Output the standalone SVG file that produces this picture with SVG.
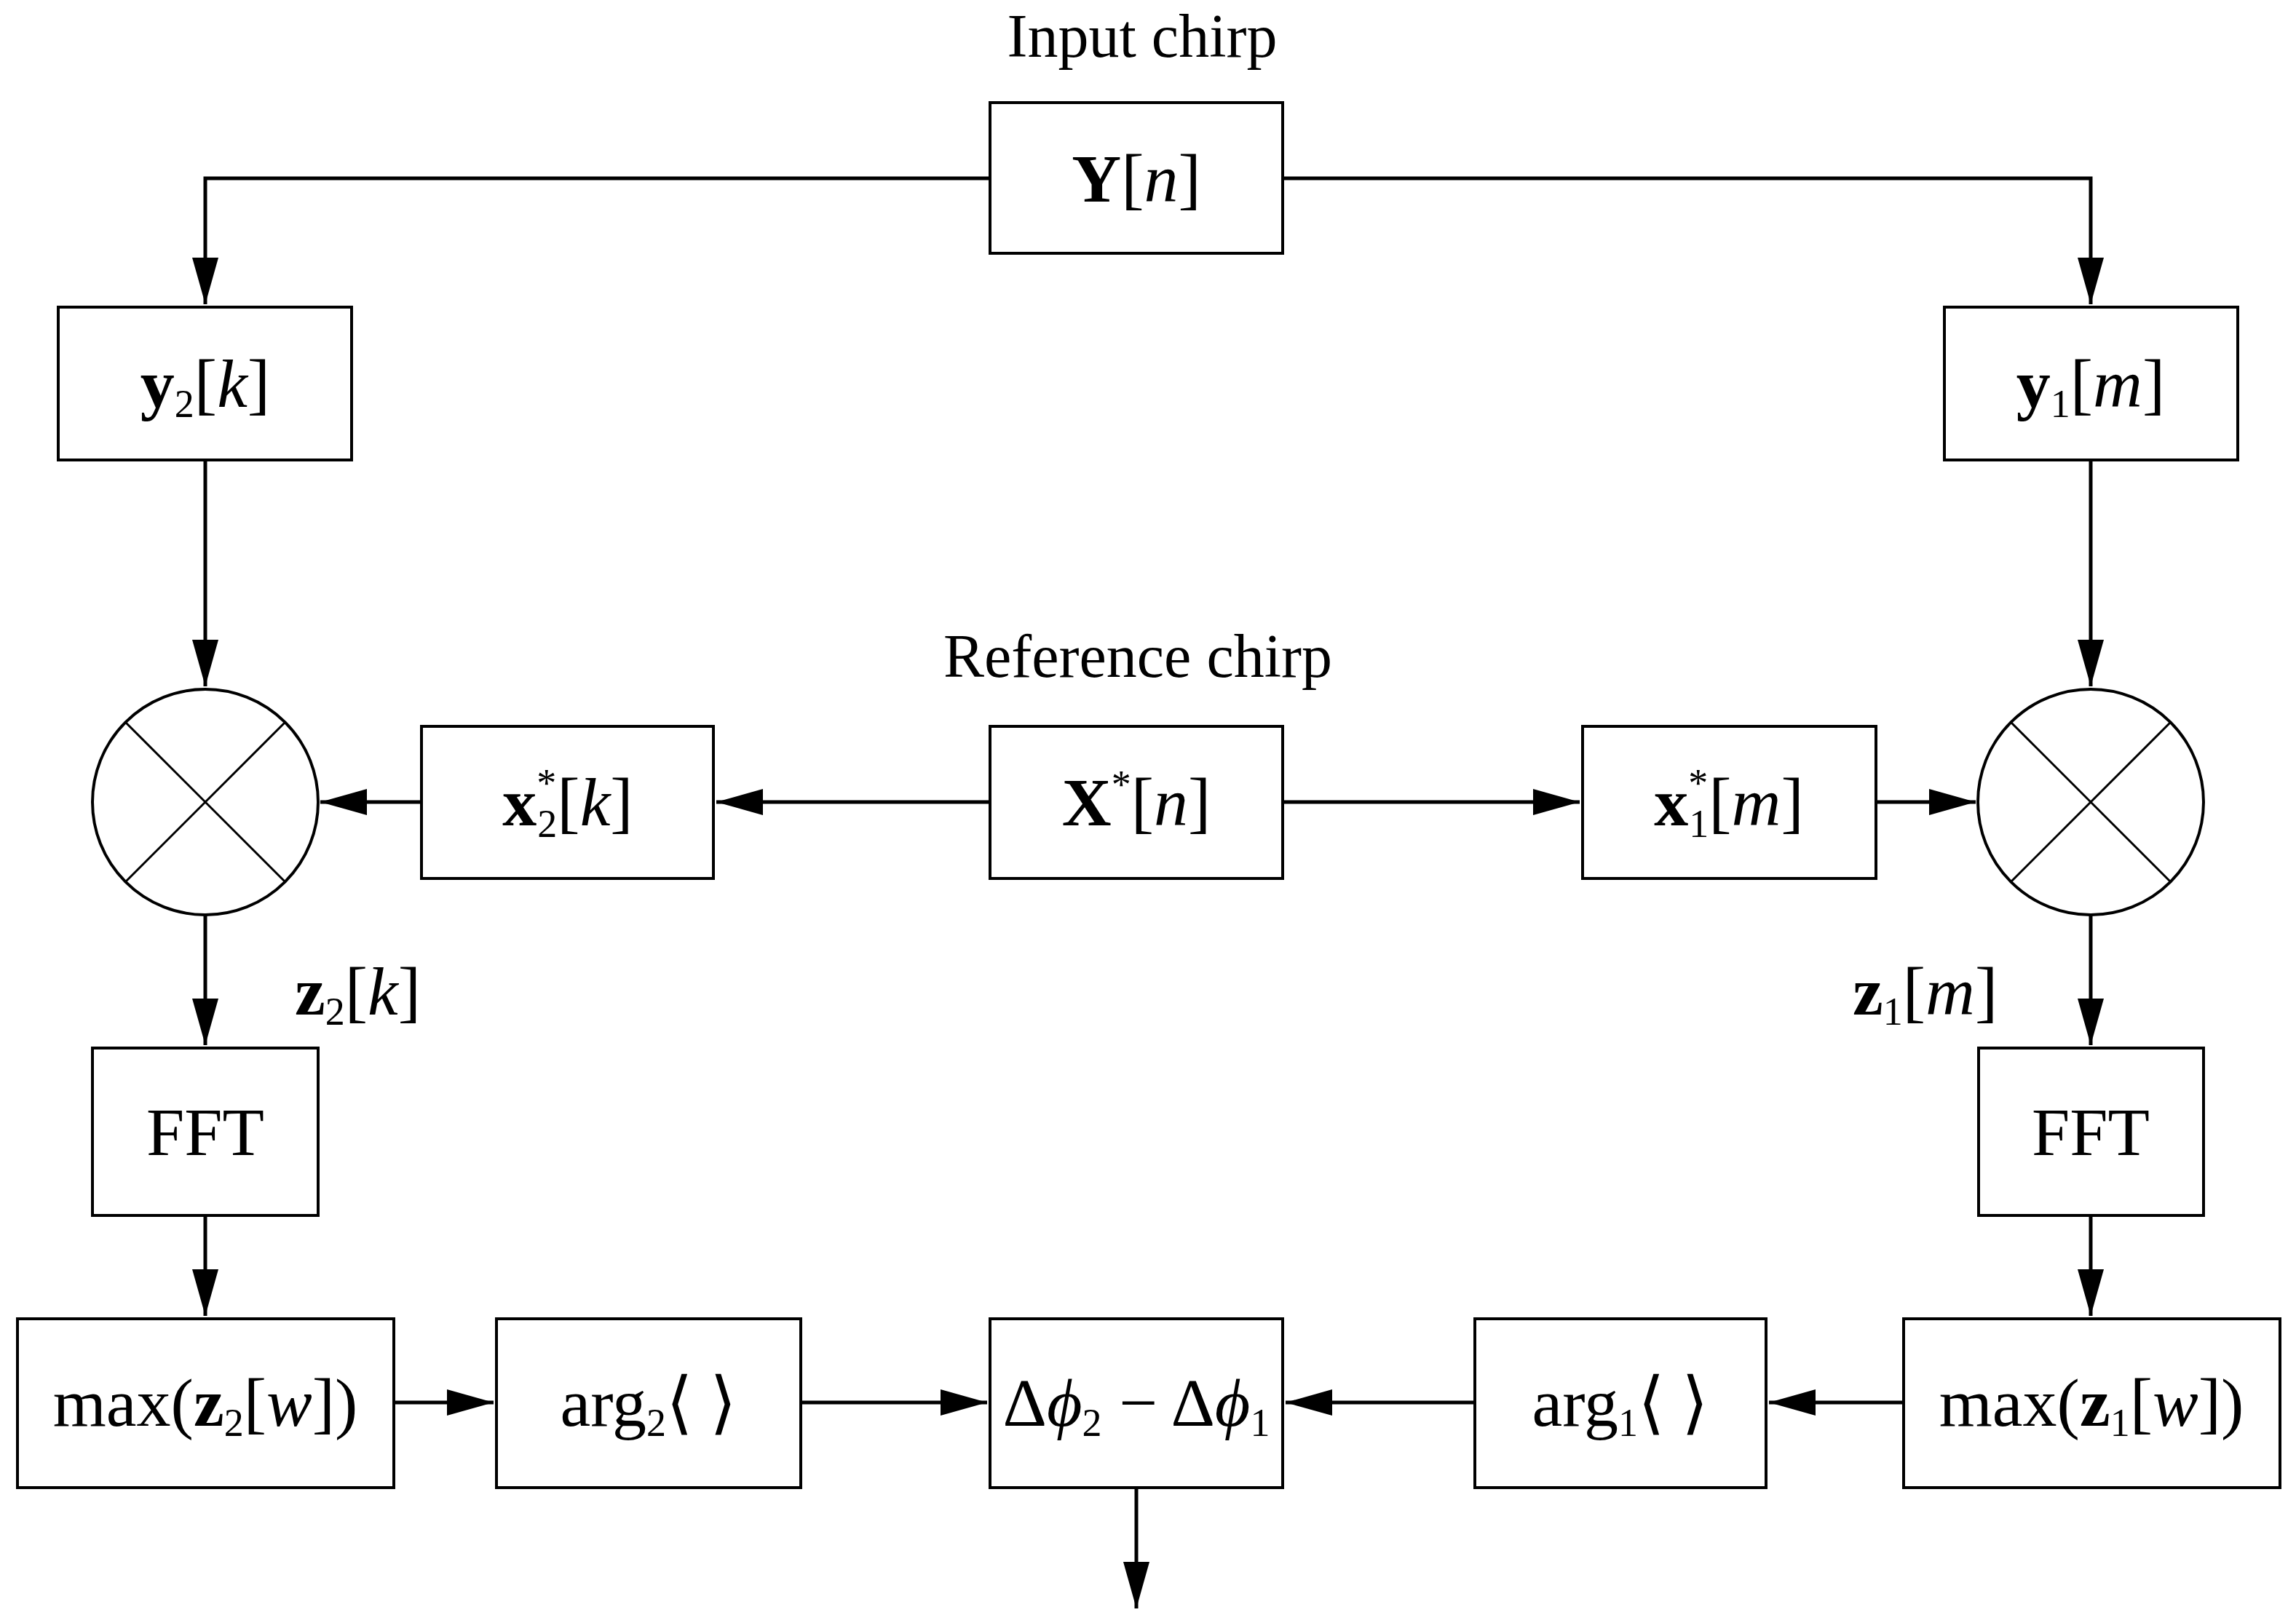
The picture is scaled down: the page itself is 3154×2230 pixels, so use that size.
<svg xmlns="http://www.w3.org/2000/svg" width="3154" height="2230" viewBox="0 0 3154 2230">
<style>
.b{fill:#fff;stroke:#000;stroke-width:4}
.l{fill:none;stroke:#000;stroke-width:5}
text{font-family:"Liberation Serif",serif;font-size:94px;fill:#000}
.t{font-size:84px}
.c{text-anchor:middle}
.bo{font-weight:bold}
.i{font-style:italic}
.s{font-size:54px}
</style>
<defs>
<marker id="a" markerUnits="userSpaceOnUse" markerWidth="70" markerHeight="40" refX="64" refY="18" orient="auto">
<path d="M0,0 L64,18 L0,36 Z" fill="#000"/>
</marker>
</defs>
<text class="c t" x="1569" y="78">Input chirp</text>
<text class="c t" x="1563" y="930">Reference chirp</text>
<g id="connectors">
<path class="l" d="M1360,245 H282 V418" marker-end="url(#a)"/>
<path class="l" d="M1762,245 H2872 V418" marker-end="url(#a)"/>
<path class="l" d="M282,632 V943" marker-end="url(#a)"/>
<path class="l" d="M2872,632 V943" marker-end="url(#a)"/>
<path class="l" d="M1360,1102 H984" marker-end="url(#a)"/>
<path class="l" d="M579,1102 H440" marker-end="url(#a)"/>
<path class="l" d="M1762,1102 H2170" marker-end="url(#a)"/>
<path class="l" d="M2577,1102 H2714" marker-end="url(#a)"/>
<path class="l" d="M282,1257 V1436" marker-end="url(#a)"/>
<path class="l" d="M2872,1257 V1436" marker-end="url(#a)"/>
<path class="l" d="M282,1670 V1808" marker-end="url(#a)"/>
<path class="l" d="M2872,1670 V1808" marker-end="url(#a)"/>
<path class="l" d="M541,1927 H678" marker-end="url(#a)"/>
<path class="l" d="M1100,1927 H1356" marker-end="url(#a)"/>
<path class="l" d="M2615,1927 H2430" marker-end="url(#a)"/>
<path class="l" d="M2026,1927 H1766" marker-end="url(#a)"/>
<path class="l" d="M1561,2044 V2210" marker-end="url(#a)"/>
</g>
<g id="Y"><rect class="b" x="1360" y="141" width="402" height="207"/>
<text class="c" x="1561" y="277"><tspan class="bo">Y</tspan>[<tspan class="i">n</tspan>]</text></g>
<g id="y2"><rect class="b" x="80" y="422" width="403" height="210"/>
<text class="c" x="282" y="559"><tspan class="bo">y</tspan><tspan class="s" dy="14">2</tspan><tspan dy="-14">[</tspan><tspan class="i">k</tspan>]</text></g>
<g id="y1"><rect class="b" x="2671" y="422" width="403" height="210"/>
<text class="c" x="2872" y="559"><tspan class="bo">y</tspan><tspan class="s" dy="14">1</tspan><tspan dy="-14">[</tspan><tspan class="i">m</tspan>]</text></g>
<g id="mixL"><circle class="b" cx="282" cy="1102" r="155"/>
<path class="l" style="stroke-width:3" d="M172,992 L392,1212 M392,992 L172,1212"/></g>
<g id="mixR"><circle class="b" cx="2872" cy="1102" r="155"/>
<path class="l" style="stroke-width:3" d="M2762,992 L2982,1212 M2982,992 L2762,1212"/></g>
<g id="X"><rect class="b" x="1360" y="998" width="402" height="209"/>
<text class="c" x="1561" y="1134"><tspan class="bo">X</tspan><tspan class="s" dy="-38">*</tspan><tspan dy="38">[</tspan><tspan class="i">n</tspan>]</text></g>
<g id="x2"><rect class="b" x="579" y="998" width="401" height="209"/>
<text class="c" x="780" y="1134"><tspan class="bo">x</tspan><tspan class="s" dy="-40">*</tspan><tspan class="s" dx="-26" dy="56">2</tspan><tspan dy="-16">[</tspan><tspan class="i">k</tspan>]</text></g>
<g id="x1"><rect class="b" x="2174" y="998" width="403" height="209"/>
<text class="c" x="2375" y="1134"><tspan class="bo">x</tspan><tspan class="s" dy="-40">*</tspan><tspan class="s" dx="-26" dy="56">1</tspan><tspan dy="-16">[</tspan><tspan class="i">m</tspan>]</text></g>
<text x="405" y="1394"><tspan class="bo">z</tspan><tspan class="s" dy="14">2</tspan><tspan dy="-14">[</tspan><tspan class="i">k</tspan>]</text>
<text x="2545" y="1394"><tspan class="bo">z</tspan><tspan class="s" dy="14">1</tspan><tspan dy="-14">[</tspan><tspan class="i">m</tspan>]</text>
<g id="fft2"><rect class="b" x="127" y="1440" width="310" height="230"/>
<text class="c" x="282" y="1587">FFT</text></g>
<g id="fft1"><rect class="b" x="2718" y="1440" width="309" height="230"/>
<text class="c" x="2872" y="1587">FFT</text></g>
<g id="max2"><rect class="b" x="24" y="1812" width="517" height="232"/>
<text class="c" x="282" y="1959">max(<tspan class="bo">z</tspan><tspan class="s" dy="14">2</tspan><tspan dy="-14">[</tspan><tspan class="i">w</tspan>])</text></g>
<g id="arg2"><rect class="b" x="682" y="1812" width="418" height="232"/>
<text class="c" x="891" y="1959">arg<tspan class="s" dy="14">2</tspan><tspan dy="-14">⟨  ⟩</tspan></text></g>
<g id="diff"><rect class="b" x="1360" y="1812" width="402" height="232"/>
<text class="c" x="1561" y="1959">Δ<tspan class="i">ϕ</tspan><tspan class="s" dy="14">2</tspan><tspan dy="-14"> − Δ</tspan><tspan class="i">ϕ</tspan><tspan class="s" dy="14">1</tspan></text></g>
<g id="arg1"><rect class="b" x="2026" y="1812" width="400" height="232"/>
<text class="c" x="2226" y="1959">arg<tspan class="s" dy="14">1</tspan><tspan dy="-14">⟨  ⟩</tspan></text></g>
<g id="max1"><rect class="b" x="2615" y="1812" width="517" height="232"/>
<text class="c" x="2873" y="1959">max(<tspan class="bo">z</tspan><tspan class="s" dy="14">1</tspan><tspan dy="-14">[</tspan><tspan class="i">w</tspan>])</text></g>
</svg>
